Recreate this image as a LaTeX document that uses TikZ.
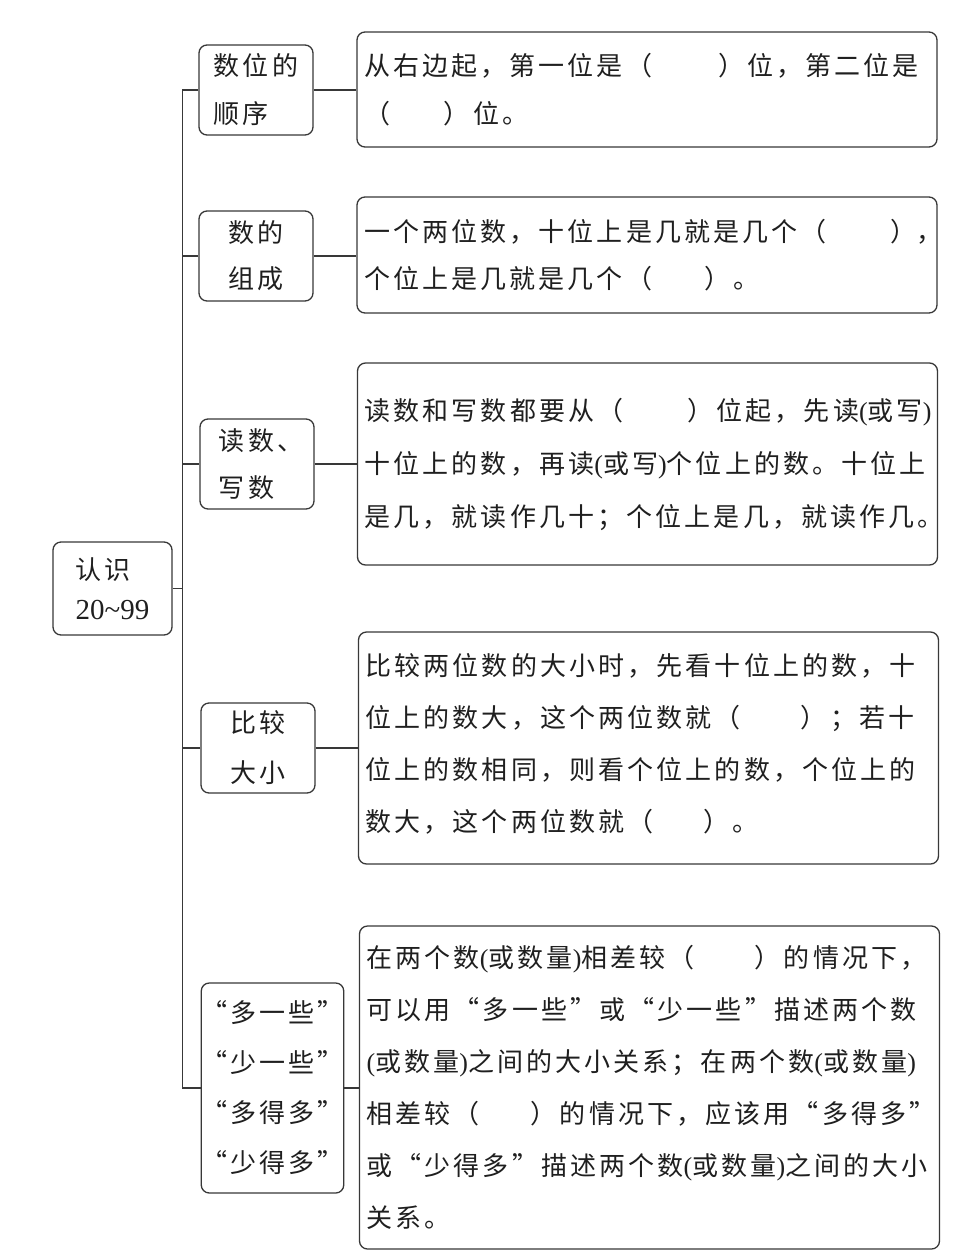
\documentclass[tikz,border=0pt]{standalone}
\usepackage{fontspec}
\setmainfont{Noto Sans CJK SC}[LetterSpace=12]
\newfontfamily\numfont{Liberation Serif}
\newcommand{\kuo}[1]{（\hspace{#1}）}
\newcommand{\hk}[1]{{\numfont(}#1{\numfont)}}
\tikzset{
  khung/.style={draw=black!78, line width=1.3pt, rounded corners=8pt,
    inner sep=0pt, align=left, text=black!88,
    font=\fontsize{26}{52}\selectfont},
  nhanh/.style={khung, minimum width=114pt, minimum height=90pt,
    font=\fontsize{26}{48}\selectfont},
  noidung/.style={khung, inner xsep=7pt, text width=566pt},
  lien/.style={draw=black!78, line width=1.3pt},
}
\begin{document}
\begin{tikzpicture}[x=1pt, y=-1pt]
    \useasboundingbox (0,0) rectangle (962,1259);

    % 1. Gốc
    \node[khung, minimum width=119pt, minimum height=93pt,
      font=\fontsize{26}{40}\selectfont] (goc) at (112.5,588.5)
      {认识\\{\numfont\fontsize{29}{40}\selectfont 20\textasciitilde 99}};

    % 2. Các nhánh
    \node[nhanh] (b1) at (256,90) {数位的\\顺序};
    \node[nhanh, font=\fontsize{26}{46}\selectfont] (b2) at (256,256) {数的\\组成};
    \node[nhanh, font=\fontsize{26}{47}\selectfont] (b3) at (257,464)
      {\hspace*{8pt}读数、\\\hspace*{8pt}写数};
    \node[nhanh, font=\fontsize{26}{50}\selectfont] (b4) at (258,748) {比较\\大小};
    \node[nhanh, minimum width=141pt, minimum height=210pt,
      font=\fontsize{26}{50}\selectfont] (b5) at (272.5,1088)
      {“多一些”\\“少一些”\\“多得多”\\“少得多”};

    % 3. Nội dung
    \node[noidung, minimum height=115pt, font=\fontsize{26}{48}\selectfont] (d1) at (647,89.5)
      {从右边起，第一位是\kuo{66pt}位，第二位是\\\kuo{54pt}位。};
    \node[noidung, minimum height=116pt, font=\fontsize{26}{47}\selectfont] (d2) at (647,255)
      {一个两位数，十位上是几就是几个\kuo{64pt}\rlap{，}\\个位上是几就是几个\kuo{52pt}。};
    \node[noidung, minimum height=202pt, font=\fontsize{26}{53}\selectfont] (d3) at (647.5,464)
      {读数和写数都要从\kuo{64pt}位起，先读\hk{或写}\\十位上的数，再读\hk{或写}个位上的数。十位上\\是几，就读作几十；个位上是几，就读作几。};
    \node[noidung, minimum height=232pt] (d4) at (648.5,748) {};
    \node[noidung, draw=none, minimum height=232pt, yshift=4pt] (d4t) at (648.5,748)
      {比较两位数的大小时，先看十位上的数，十\\位上的数大，这个两位数就\kuo{60pt}；若十\\位上的数相同，则看个位上的数，个位上的\\数大，这个两位数就\kuo{50pt}。};
    \node[noidung, minimum height=323pt] (d5) at (649.5,1087.5)
      {在两个数\hk{或数量}相差较\kuo{60pt}的情况下，\\可以用“多一些”或“少一些”描述两个数\\\hk{或数量}之间的大小关系；在两个数\hk{或数量}\\相差较\kuo{51pt}的情况下，应该用“多得多”\\或“少得多”描述两个数\hk{或数量}之间的大小\\关系。};

    % 4. Đường nối
    \draw[lien] (b1.west) -- ++(-16,0) coordinate (tren) |- (b5.west);
    \draw[lien] (goc.east) -- (goc.east -| tren);
    \foreach \i in {2,3,4}
      \draw[lien] (b\i.west) -- (b\i.west -| tren);
    \foreach \i in {1,...,5}
      \draw[lien] (b\i.east) -- (d\i.west |- b\i.east);
\end{tikzpicture}
\end{document}
